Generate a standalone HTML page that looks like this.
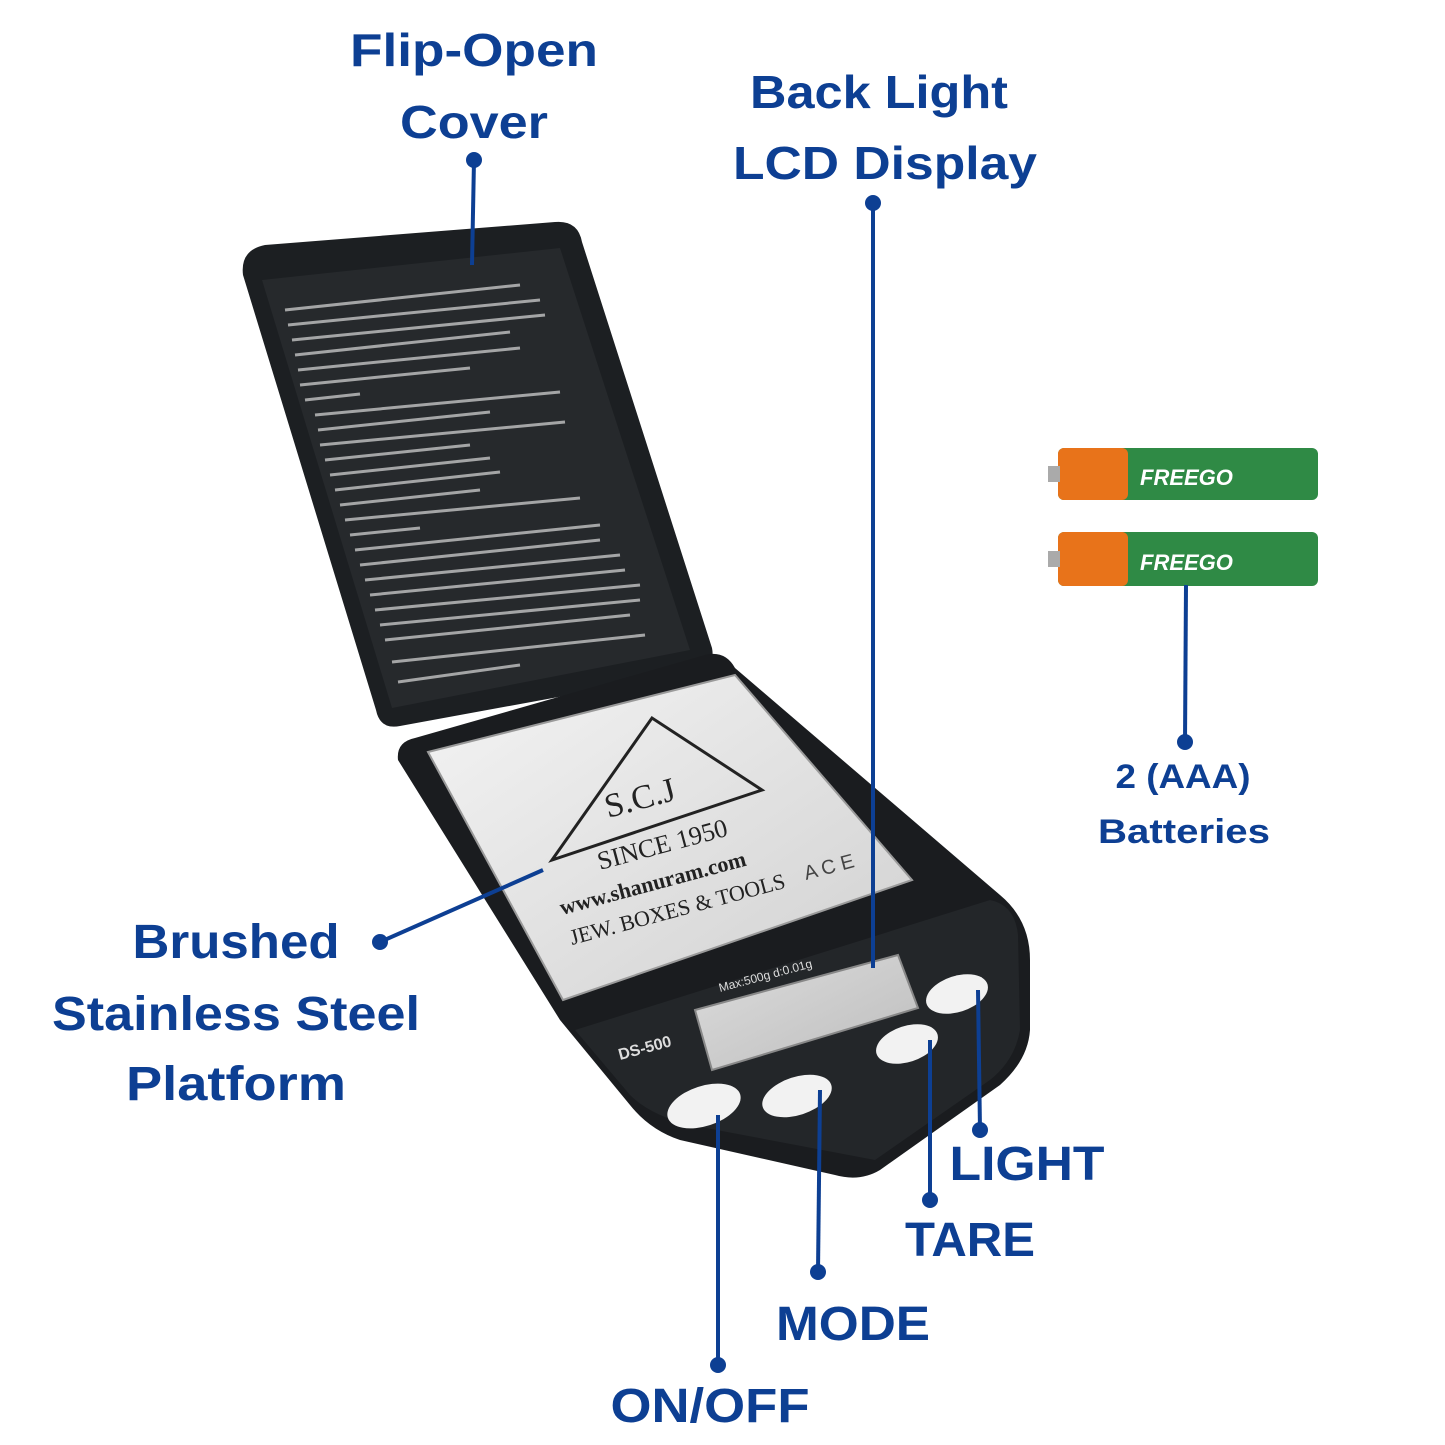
<!DOCTYPE html>
<html><head><meta charset="utf-8"><style>
html,body{margin:0;padding:0;background:#fff;}
svg{display:block}
text{font-family:"Liberation Sans",sans-serif;font-weight:bold;fill:#0d3f93;}
</style></head><body>
<svg width="1445" height="1445" viewBox="0 0 1445 1445" xmlns="http://www.w3.org/2000/svg">
<defs>
<linearGradient id="steel" x1="0" y1="0" x2="1" y2="1">
<stop offset="0" stop-color="#f4f4f4"/><stop offset="0.5" stop-color="#e2e2e2"/><stop offset="1" stop-color="#d0d0d0"/></linearGradient>
<linearGradient id="lcd" x1="0" y1="0" x2="1" y2="1"><stop offset="0" stop-color="#dcdcdc"/><stop offset="1" stop-color="#bdbdbd"/></linearGradient>
</defs>
<path d="M243,275 Q240,250 265,245 L555,222 Q578,220 582,242 L712,648 Q716,668 695,672 L400,726 Q380,730 376,710 Z" fill="#1c1f22"/>
<path d="M262,280 L560,248 L690,650 L392,708 Z" fill="#26292c"/>
<g stroke="#cfcfcf" stroke-width="3" opacity="0.75">
<line x1="285" y1="310" x2="520" y2="285"/><line x1="288" y1="325" x2="540" y2="300"/>
<line x1="292" y1="340" x2="545" y2="315"/><line x1="295" y1="355" x2="510" y2="332"/>
<line x1="298" y1="370" x2="520" y2="348"/><line x1="300" y1="385" x2="470" y2="368"/>
<line x1="305" y1="400" x2="360" y2="394"/><line x1="315" y1="415" x2="560" y2="392"/>
<line x1="318" y1="430" x2="490" y2="412"/><line x1="320" y1="445" x2="565" y2="422"/>
<line x1="325" y1="460" x2="470" y2="445"/><line x1="330" y1="475" x2="490" y2="458"/>
<line x1="335" y1="490" x2="500" y2="472"/><line x1="340" y1="505" x2="480" y2="490"/>
<line x1="345" y1="520" x2="580" y2="498"/><line x1="350" y1="535" x2="420" y2="528"/>
<line x1="355" y1="550" x2="600" y2="525"/><line x1="360" y1="565" x2="600" y2="540"/>
<line x1="365" y1="580" x2="620" y2="555"/><line x1="370" y1="595" x2="625" y2="570"/>
<line x1="375" y1="610" x2="640" y2="585"/><line x1="380" y1="625" x2="640" y2="600"/>
<line x1="385" y1="640" x2="630" y2="615"/><line x1="392" y1="662" x2="645" y2="635"/>
<line x1="398" y1="682" x2="520" y2="665"/>
</g>
<path d="M398,760 Q396,742 415,738 L705,655 Q725,650 735,668 L1000,895 Q1030,920 1030,960 L1030,1030 Q1028,1060 1000,1085 L880,1170 Q860,1182 835,1175 L680,1140 Q650,1130 630,1105 L560,1020 Z" fill="#1a1c1f"/>
<path d="M575,1030 L990,900 Q1015,905 1018,935 L1020,1030 Q1015,1060 990,1080 L875,1160 L690,1125 Q650,1115 630,1095 Z" fill="#232629"/>
<path d="M428,752 L735,675 L912,880 L563,1000 Z" fill="url(#steel)" stroke="#9a9a9a" stroke-width="2"/>
<path d="M552,860 L652,718 L762,790 Z" fill="none" stroke="#222" stroke-width="3"/>
<text x="608" y="818" style="font-family:'Liberation Serif',serif;fill:#222;font-weight:normal" font-size="34" transform="rotate(-15 608 818)">S.C.J</text>
<text x="600" y="870" style="font-family:'Liberation Serif',serif;fill:#222;font-weight:normal" font-size="26" transform="rotate(-15 600 870)">SINCE 1950</text>
<text x="562" y="915" style="font-family:'Liberation Serif',serif;fill:#222" font-size="22" transform="rotate(-15 562 915)">www.shanuram.com</text>
<text x="572" y="945" style="font-family:'Liberation Serif',serif;fill:#222;font-weight:normal" font-size="22" transform="rotate(-15 572 945)">JEW. BOXES &amp; TOOLS</text>
<text x="806" y="880" style="fill:#444;font-weight:normal" font-size="20" transform="rotate(-15 806 880)">A C E</text>
<path d="M695,1010 L898,955 L918,1008 L712,1070 Z" fill="url(#lcd)" stroke="#888" stroke-width="2"/>
<text x="720" y="992" style="fill:#ddd;font-weight:normal" font-size="12" transform="rotate(-15 720 992)">Max:500g   d:0.01g</text>
<text x="620" y="1060" style="fill:#ddd" font-size="16" transform="rotate(-15 620 1060)">DS-500</text>
<ellipse cx="704" cy="1106" rx="38" ry="20" fill="#f2f2f2" transform="rotate(-18 704 1106)"/>
<ellipse cx="797" cy="1096" rx="36" ry="19" fill="#f2f2f2" transform="rotate(-18 797 1096)"/>
<ellipse cx="907" cy="1044" rx="32" ry="18" fill="#f2f2f2" transform="rotate(-18 907 1044)"/>
<ellipse cx="957" cy="994" rx="32" ry="18" fill="#f2f2f2" transform="rotate(-18 957 994)"/>
<g>
<rect x="1058" y="448" width="260" height="52" rx="6" fill="#2f8a45"/>
<rect x="1058" y="448" width="70" height="52" rx="6" fill="#e8731a"/>
<rect x="1048" y="466" width="12" height="16" fill="#aaa"/>
<text x="1140" y="485" style="fill:#fff;font-style:italic" font-size="22">FREEGO</text>
<rect x="1058" y="532" width="260" height="54" rx="6" fill="#2f8a45"/>
<rect x="1058" y="532" width="70" height="54" rx="6" fill="#e8731a"/>
<rect x="1048" y="551" width="12" height="16" fill="#aaa"/>
<text x="1140" y="570" style="fill:#fff;font-style:italic" font-size="22">FREEGO</text>
</g>
<g stroke="#0d3f93" stroke-width="4" fill="none">
<line x1="474" y1="160" x2="472" y2="265"/>
<line x1="873" y1="203" x2="873" y2="968"/>
<line x1="1185" y1="742" x2="1186" y2="585"/>
<line x1="380" y1="942" x2="543" y2="870"/>
<line x1="980" y1="1130" x2="978" y2="990"/>
<line x1="930" y1="1200" x2="930" y2="1040"/>
<line x1="818" y1="1272" x2="820" y2="1090"/>
<line x1="718" y1="1365" x2="718" y2="1115"/>
</g>
<g fill="#0d3f93">
<circle cx="474" cy="160" r="8"/><circle cx="873" cy="203" r="8"/>
<circle cx="1185" cy="742" r="8"/><circle cx="380" cy="942" r="8"/>
<circle cx="980" cy="1130" r="8"/><circle cx="930" cy="1200" r="8"/>
<circle cx="818" cy="1272" r="8"/><circle cx="718" cy="1365" r="8"/>
</g>
<g text-anchor="middle">
<text x="474" y="66" font-size="46" textLength="248" lengthAdjust="spacingAndGlyphs">Flip-Open</text>
<text x="474" y="138" font-size="46" textLength="148" lengthAdjust="spacingAndGlyphs">Cover</text>
<text x="879" y="108" font-size="46" textLength="258" lengthAdjust="spacingAndGlyphs">Back Light</text>
<text x="885" y="179" font-size="46" textLength="304" lengthAdjust="spacingAndGlyphs">LCD Display</text>
<text x="1183" y="788" font-size="34" textLength="135" lengthAdjust="spacingAndGlyphs">2 (AAA)</text>
<text x="1184" y="843" font-size="34" textLength="172" lengthAdjust="spacingAndGlyphs">Batteries</text>
<text x="236" y="958" font-size="48" textLength="207" lengthAdjust="spacingAndGlyphs">Brushed</text>
<text x="236" y="1030" font-size="48" textLength="368" lengthAdjust="spacingAndGlyphs">Stainless Steel</text>
<text x="236" y="1100" font-size="48" textLength="220" lengthAdjust="spacingAndGlyphs">Platform</text>
<text x="1027" y="1180" font-size="48" textLength="155" lengthAdjust="spacingAndGlyphs">LIGHT</text>
<text x="970" y="1256" font-size="48" textLength="130" lengthAdjust="spacingAndGlyphs">TARE</text>
<text x="853" y="1340" font-size="48" textLength="154" lengthAdjust="spacingAndGlyphs">MODE</text>
<text x="710" y="1422" font-size="48" textLength="199" lengthAdjust="spacingAndGlyphs">ON/OFF</text>
</g>
</svg>
</body></html>
